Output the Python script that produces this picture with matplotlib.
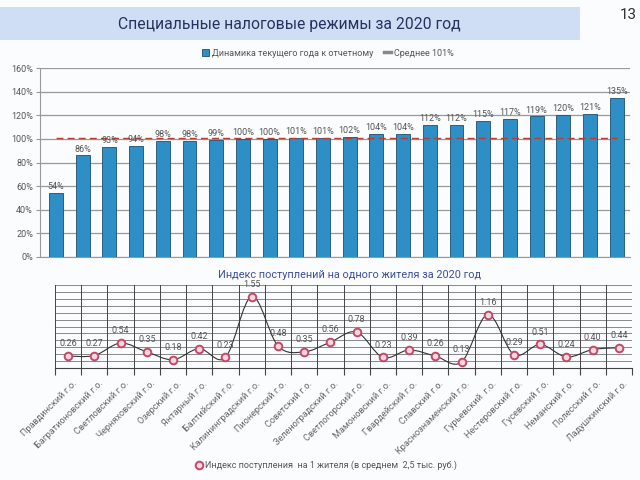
import matplotlib
matplotlib.use('Agg')
import numpy as np
import matplotlib.pyplot as plt
from matplotlib.patches import Rectangle, PathPatch, Patch
from matplotlib.path import Path
from matplotlib.lines import Line2D

plt.rcParams['font.family'] = ['Roboto', 'DejaVu Sans']

# bar chart: growth of current year vs reporting year, %
growth = [54, 86, 93, 94, 98, 98, 99, 100, 100, 101, 101,
          102, 104, 104, 112, 112, 115, 117, 119, 120, 121, 135]
avg_growth = 101

# line chart: revenue index per resident
districts = ['Правдинский г.о.', 'Багратионовский г.о.', 'Светловский г.о.',
             'Черняховский г.о.', 'Озерский г.о.', 'Янтарный г.о.',
             'Балтийский г.о.', 'Калининградский г.о.', 'Пионерский г.о.',
             'Советский г.о.', 'Зеленоградский г.о.', 'Светлогорский г.о.',
             'Мамоновский г.о.', 'Гвардейский г.о.', 'Славский г.о.',
             'Краснознаменский г.о.', 'Гурьевский  г.о.', 'Нестеровский г.о.',
             'Гусевский г.о.', 'Неманский г.о.', 'Полесский г.о.',
             'Ладушкинский г.о.']
index_vals = [0.26, 0.27, 0.54, 0.35, 0.18, 0.42, 0.23, 1.55, 0.48, 0.35, 0.56,
              0.78, 0.23, 0.39, 0.26, 0.13, 1.16, 0.29, 0.51, 0.24, 0.40, 0.44]

bar_color = '#2E8FC6'
text_gray = '#555555'

fig = plt.figure(figsize=(6.4, 4.8), dpi=100)
fig.patch.set_facecolor('#FBFCFD')

# title banner
fig.patches.append(Rectangle((0, 1-40/480), 580/640, 33/480,
                             transform=fig.transFigure, facecolor='#D0DEF5',
                             edgecolor='none', zorder=0))
fig.text(289/640, 1-24/480, 'Специальные налоговые режимы за 2020 год',
         ha='center', va='center', fontsize=11.3, color='#26325E')
fig.text(628/640, 1-15/480, '13', ha='center', va='center', fontsize=11,
         color='#333333')

# BAR CHART
ax1 = fig.add_axes([40/640, 1-257/480, 590/640, 189/480])
ax1.set_facecolor('none')
x = np.arange(len(growth))
ax1.bar(x, growth, width=0.52, color=bar_color, edgecolor='#1D4F6E',
        linewidth=0.6, zorder=3)
ax1.plot([x[0], x[-1]], [avg_growth, avg_growth], color='#C0392B',
         linestyle=(0, (5, 3)), linewidth=1.0, zorder=4)
for xi, v in zip(x, growth):
    ax1.text(xi, v + 1.5, f'{v}%', ha='center', va='bottom', fontsize=6.5,
             color=text_gray, zorder=5)
ax1.set_xlim(-0.6, len(growth) - 0.5)
ax1.set_ylim(0, 160)
ax1.set_yticks(range(0, 161, 20))
ax1.set_yticklabels([f'{t}%' for t in range(0, 161, 20)], fontsize=6.5,
                    color=text_gray)
ax1.set_xticks([])
ax1.grid(axis='y', color='#999999', linewidth=0.9, zorder=0)
for s in ['top', 'right']:
    ax1.spines[s].set_visible(False)
ax1.spines['left'].set_color('#999999')
ax1.spines['bottom'].set_color('#999999')
ax1.tick_params(axis='y', length=3, color='#999999', pad=2)

handles = [Patch(facecolor=bar_color, edgecolor='#1D4F6E', linewidth=0.6),
           Line2D([], [], color='#888888', linewidth=2.5)]
fig.legend(handles, ['Динамика текущего года к отчетному', 'Среднее 101%'],
           loc='center', bbox_to_anchor=(328/640, 1-53/480), ncol=2,
           frameon=False, fontsize=6.5, handlelength=0.8, handleheight=0.8,
           handletextpad=0.3, columnspacing=1.2, labelcolor=text_gray)

# LINE CHART
ax2 = fig.add_axes([55/640, 1-368/480, 577/640, 83/480])
ax2.set_facecolor('none')
ax2.set_xlim(-0.5, len(index_vals) - 0.5)
ax2.set_ylim(0, 1.8)
for yv in np.arange(0.15, 1.81, 0.15):
    ax2.axhline(yv, color='#888888', linewidth=0.7, zorder=0)
for xv in np.arange(-0.5, len(index_vals), 1):
    ax2.axvline(xv, color='#444444', linewidth=0.7, zorder=0)

# smoothed line (Catmull-Rom as Bezier segments)
px = np.arange(len(index_vals), dtype=float)
py = np.array(index_vals, dtype=float)
verts = [(px[0], py[0])]
codes = [Path.MOVETO]
n = len(px)
for i in range(n - 1):
    i0 = max(i - 1, 0)
    i3 = min(i + 2, n - 1)
    c1 = (px[i] + (px[i+1] - px[i0]) / 6, py[i] + (py[i+1] - py[i0]) / 6)
    c2 = (px[i+1] - (px[i3] - px[i]) / 6, py[i+1] - (py[i3] - py[i]) / 6)
    verts += [c1, c2, (px[i+1], py[i+1])]
    codes += [Path.CURVE4] * 3
ax2.add_patch(PathPatch(Path(verts, codes), facecolor='none',
                        edgecolor='#333333', linewidth=0.8, zorder=3))
ax2.plot(px, py, linestyle='none', marker='o', markersize=5.5,
         markerfacecolor='#F8D6DE', markeredgecolor='#C04A68',
         markeredgewidth=1.4, zorder=4, clip_on=False)
for xi, v in zip(px, index_vals):
    ax2.text(xi, v + 0.17, f'{v:.2f}', ha='center', va='bottom', fontsize=6.5,
             color=text_gray, zorder=5)

ax2.set_yticks([])
ax2.set_xticks(np.arange(-0.5, len(index_vals), 1))
ax2.set_xticklabels([])
ax2.set_xticks(px + 0.15, minor=True)
ax2.set_xticklabels(districts, minor=True, rotation=45, ha='right',
                    rotation_mode='anchor', fontsize=6.6, color='#666666')
ax2.tick_params(axis='x', which='major', length=5, color='#444444')
ax2.tick_params(axis='x', which='minor', length=0, pad=8)
for s in ['top', 'right', 'left']:
    ax2.spines[s].set_visible(False)
ax2.spines['bottom'].set_color('#444444')

fig.text(350/640, 1-275/480, 'Индекс поступлений на одного жителя за 2020 год',
         ha='center', va='center', fontsize=7.8, color='#3A4FA0')

leg_handle = Line2D([], [], linestyle='none', marker='o', markersize=5.5,
                    markerfacecolor='#F8D6DE', markeredgecolor='#C04A68',
                    markeredgewidth=1.4)
fig.legend([leg_handle],
           ['Индекс поступления  на 1 жителя (в среднем  2,5 тыс. руб.)'],
           loc='center', bbox_to_anchor=(326/640, 1-465/480), frameon=False,
           fontsize=6.5, handlelength=0.8, handletextpad=0.3,
           labelcolor=text_gray)

fig.savefig('out.png', dpi=100, facecolor=fig.get_facecolor())
